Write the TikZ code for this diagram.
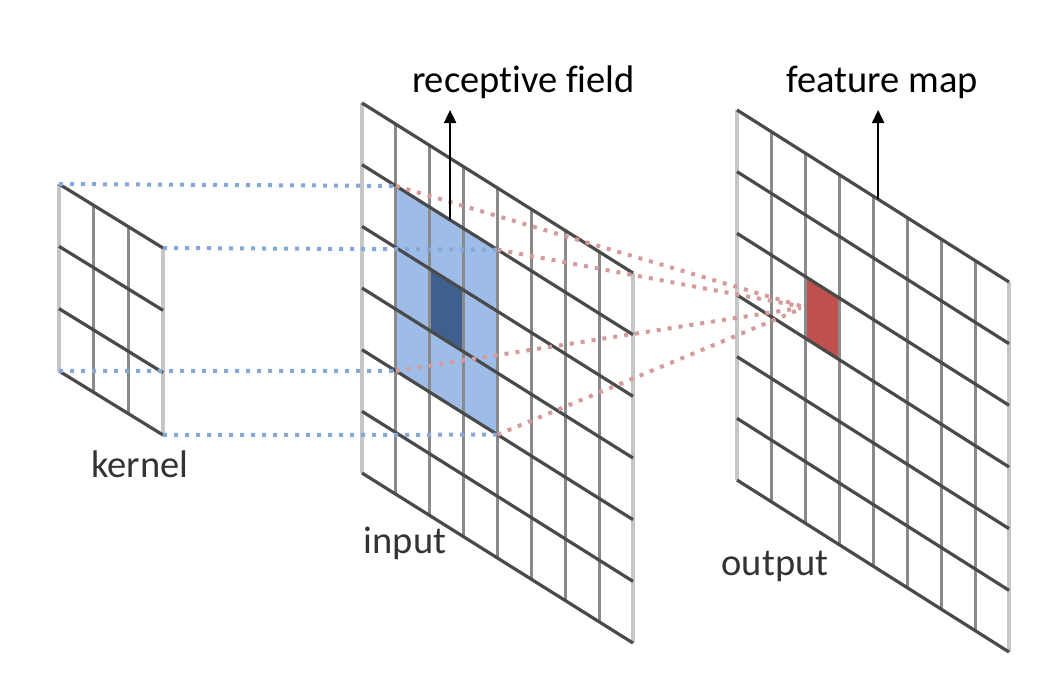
\documentclass[tikz,border=0pt]{standalone}
\usepackage{fontspec}
\setmainfont{Carlito}[Ligatures={NoCommon}]
\usetikzlibrary{arrows.meta}
\definecolor{rfblue}{HTML}{9DBDE8}
\definecolor{cellblue}{HTML}{3F5F8F}
\definecolor{cellred}{HTML}{C0504D}
\definecolor{dotblue}{HTML}{86A8D8}
\definecolor{dotred}{HTML}{D69A9A}
\definecolor{gridedge}{HTML}{C6C6C6}
\definecolor{gridvert}{HTML}{8A8A8A}
\definecolor{gridslant}{HTML}{4A4A4A}
\definecolor{labelgray}{HTML}{333333}
\newcommand\gridlines[3]{%
  \foreach \i in {1,...,#3} \draw[vline] (\i,0) -- (\i,#2);
  \draw[eline] (0,0) -- (0,#2);
  \draw[eline] (#1,0) -- (#1,#2);
  \foreach \j in {0,...,#2} \draw[sline] (0,\j) -- (#1,\j);
}
\begin{document}
\begin{tikzpicture}[x=1pt,y=-1pt,
  vline/.style={draw=gridvert,line width=3pt},
  eline/.style={draw=gridedge,line width=4pt},
  sline/.style={draw=gridslant,line width=3.2pt},
  bluedot/.style={draw=dotblue,line width=4pt,dash pattern=on 4pt off 7pt},
  reddot/.style={draw=dotred,line width=4pt,dash pattern=on 4pt off 7pt},
  lbl/.style={font=\fontsize{38.5}{46}\selectfont,inner sep=0pt,anchor=base},
  pointer/.style={-{Triangle[width=12pt,length=13pt]},line width=2pt,draw=black}]
\fill[white] (0,0) rectangle (1056,696);
\useasboundingbox (0,0) rectangle (1056,696);
\coordinate (tipline) at (0,110);

% kernel
\begin{scope}[shift={(59,184)},x={(34.67pt,-21.33pt)},y={(0pt,-62.33pt)}]
  \gridlines{3}{3}{2}
  \coordinate (k-tl) at (0,0);
  \coordinate (k-tr) at (3,0);
  \coordinate (k-bl) at (0,3);
  \coordinate (k-br) at (3,3);
\end{scope}

% input
\begin{scope}[shift={(362,103)},x={(33.875pt,-21.25pt)},y={(0pt,-61.67pt)}]
  \fill[rfblue] (1,1) -- (4,1) -- (4,4) -- (1,4) -- cycle;
  \fill[cellblue] (2,2) -- (3,2) -- (3,3) -- (2,3) -- cycle;
  \gridlines{8}{6}{7}
  \coordinate (in-tl) at (1,1);
  \coordinate (in-tr) at (4,1);
  \coordinate (in-bl) at (1,4);
  \coordinate (in-br) at (4,4);
  \coordinate (rf-start) at (2.6,1);
\end{scope}

% output
\begin{scope}[shift={(737,110)},x={(34pt,-21.5pt)},y={(0pt,-61.67pt)}]
  \fill[cellred] (2,2) -- (3,2) -- (3,3) -- (2,3) -- cycle;
  \gridlines{8}{6}{7}
  \coordinate (out-cell) at (2,2.5);
  \coordinate (fm-start) at (4.15,0);
\end{scope}

% blue dotted connectors kernel -> receptive field
\draw[bluedot] (k-tl) -- (in-tl);
\draw[bluedot] (k-tr) -- (in-tr);
\draw[bluedot] (k-bl) -- (in-bl);
\draw[bluedot] (k-br) -- (in-br);

% red dotted connectors receptive field -> output cell
\draw[reddot,shorten >=4pt] (in-tl) -- (out-cell);
\draw[reddot,shorten >=4pt] (in-tr) -- (out-cell);
\draw[reddot,shorten >=4pt] (in-bl) -- (out-cell);
\draw[reddot,shorten >=4pt] (in-br) -- (out-cell);

% labels
\node[lbl] (l-rf) at (523.5,92) {receptive field};
\node[lbl] (l-fm) at (882,92) {feature map};
\node[lbl,text=labelgray] (l-k) at (140,477) {kernel};
\node[lbl,text=labelgray] (l-in) at (405,553) {input};
\node[lbl,text=labelgray] (l-out) at (775,575) {output};

% pointers
\draw[pointer] (rf-start) -- (rf-start |- tipline);
\draw[pointer] (fm-start) -- (fm-start |- tipline);
\end{tikzpicture}
\end{document}
